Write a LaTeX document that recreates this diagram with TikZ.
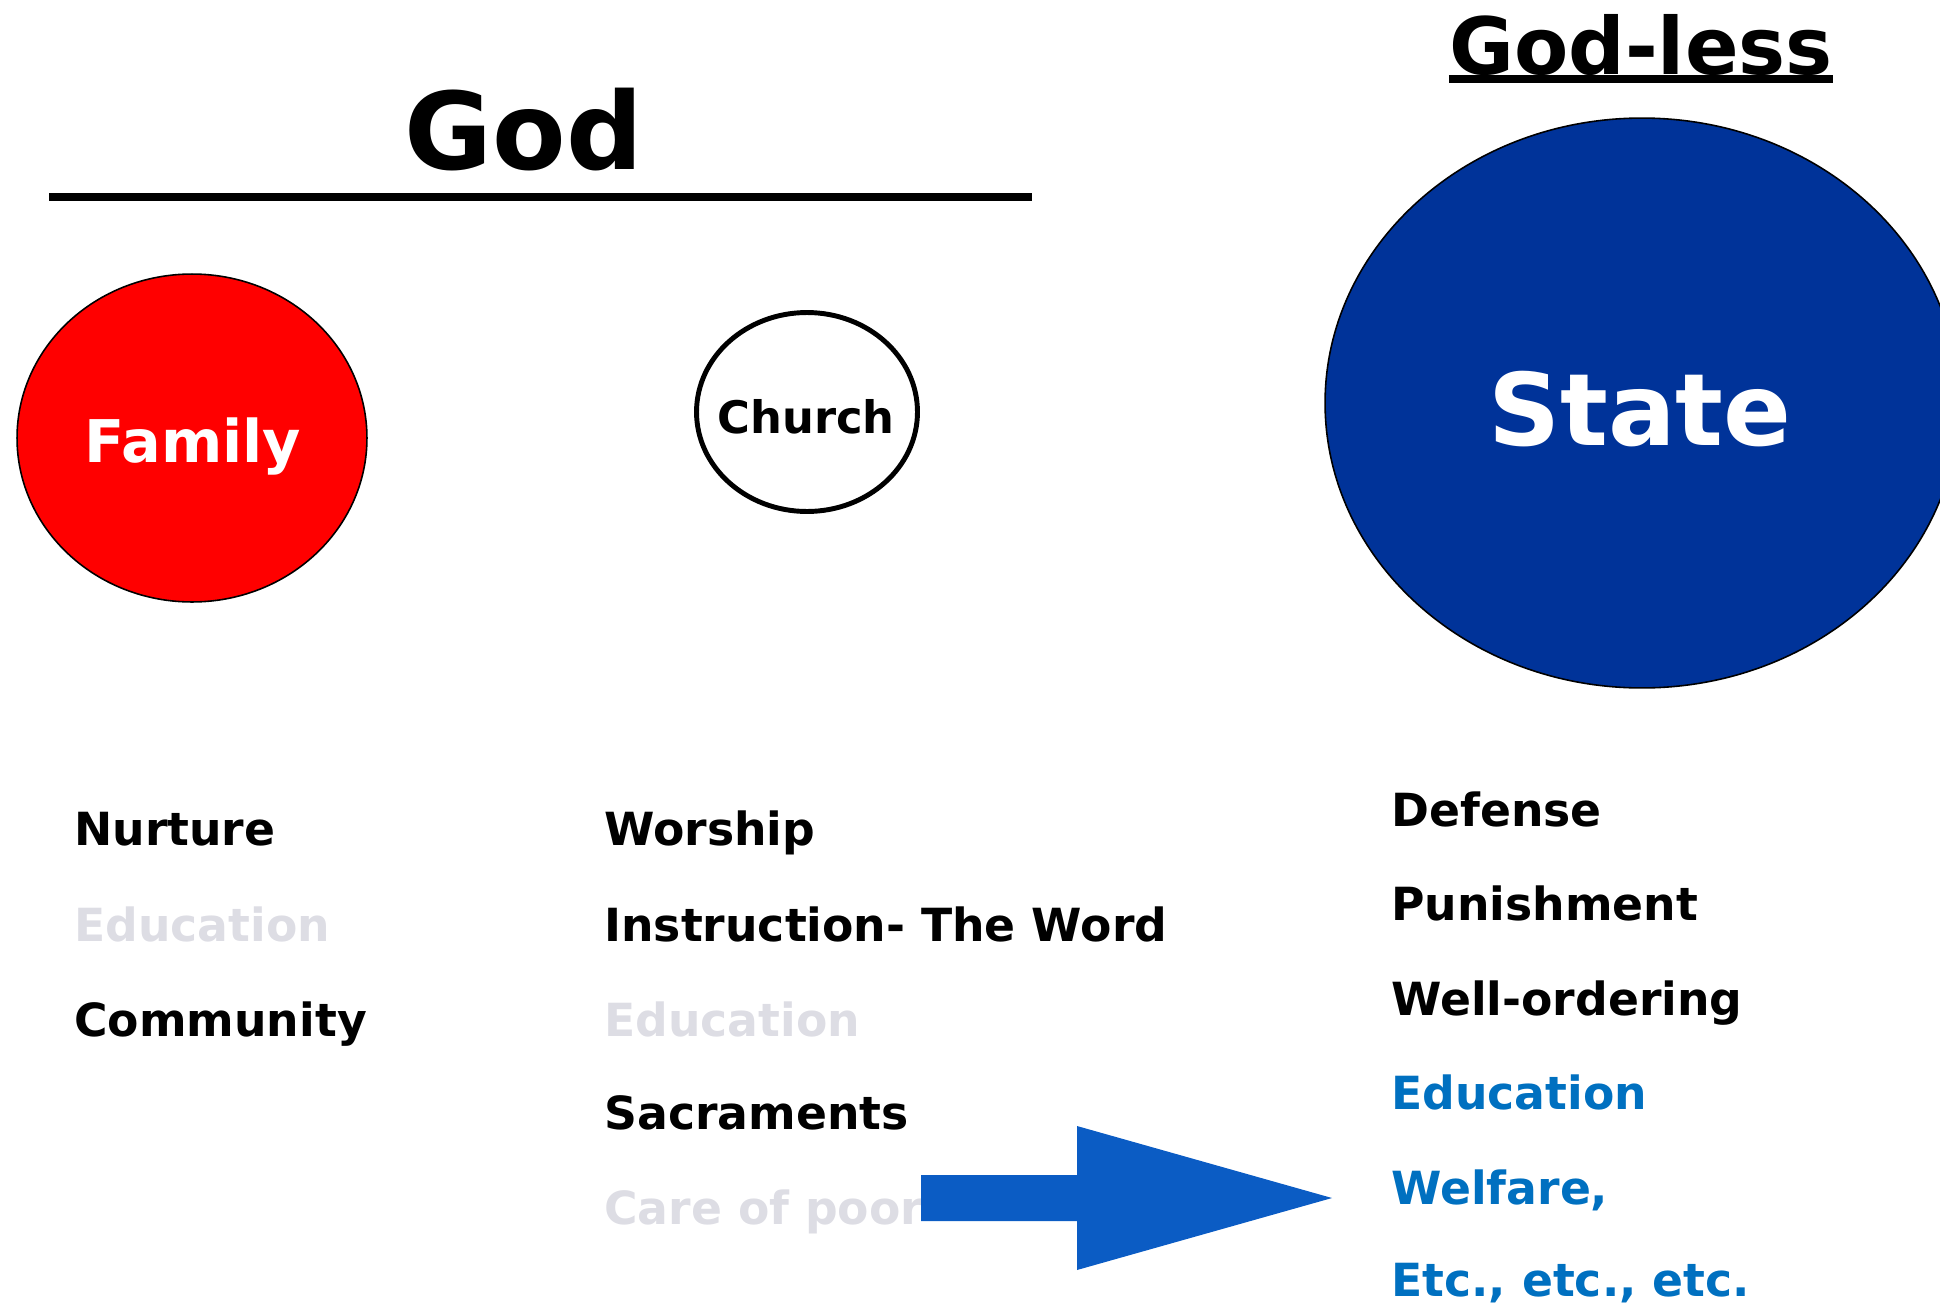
\documentclass[tikz,border=0pt]{standalone}
\usepackage{fontspec}
\setmainfont{DejaVu Sans}
\usetikzlibrary{shapes.geometric,calc}

\definecolor{famred}{HTML}{FF0000}
\definecolor{stateblue}{HTML}{003399}
\definecolor{arrowblue}{HTML}{0B5CC4}
\definecolor{textblue}{HTML}{0070C0}
\definecolor{fadegrey}{HTML}{DDDDE4}

\begin{document}
\begin{tikzpicture}[x=0.02cm,y=-0.02cm,
  item/.style={anchor=base west, inner sep=0pt, font=\fontsize{26}{30}\selectfont\bfseries},
  faded/.style={item, text=fadegrey},
  newitem/.style={item, text=textblue},
  title/.style={anchor=base, inner sep=0pt, font=\fontsize{#1}{#1}\selectfont\bfseries},
  blob/.style={ellipse, draw, inner sep=0pt, line width=0.9pt}]
\useasboundingbox (0,0) rectangle (1940,1305);
\clip (0,0) rectangle (1940,1305);

% headings
\node[title=61] (god) at (524,169) {God};
\draw[line width=4pt] (49,197) -- (1032,197);
\node[title=45] (godless) at (1641,74) {God-less};
\draw[line width=4.2pt] ($(godless.base west)+(0,5)$) -- ($(godless.base east)+(0,5)$);

% the three spheres
\node[blob, fill=famred, minimum width=7cm, minimum height=6.56cm] (family) at (192,438) {};
\node[title=33.5, text=white] (familylbl) at (193,462) {Family};
\node[blob, line width=2.8pt, minimum width=4.42cm, minimum height=3.98cm] (church) at (807,412) {};
\node[title=25.5] (churchlbl) at (806,433) {Church};
\node[blob, fill=stateblue, minimum width=12.68cm, minimum height=11.4cm] (state) at (1642,403) {};
\node[title=57, text=white] (statelbl) at (1640,445) {State};

% family duties
\node[item] (nurture) at (74,845) {Nurture};
\node[faded] (famedu) at (74,941) {Education};
\node[item] (community) at (74,1036) {Community};

% church duties
\node[item] (worship) at (604,845) {Worship};
\node[item] (instruction) at (604,941) {Instruction- The Word};
\node[faded] (churchedu) at (604,1036) {Education};
\node[item] (sacraments) at (604,1129) {Sacraments};
\node[faded] (care) at (604,1224) {Care of poor};

% state duties
\node[item] (defense) at (1391,826) {Defense};
\node[item] (punishment) at (1391,920) {Punishment};
\node[item] (ordering) at (1391,1015) {Well-ordering};
\node[newitem] (stateedu) at (1391,1109) {Education};
\node[newitem] (welfare) at (1391,1204) {Welfare,};
\node[newitem] (etc) at (1391,1296) {Etc., etc., etc.};

% block arrow
\coordinate (tail) at (921,1198);
\coordinate (tip) at (1332,1198);
\fill[arrowblue] ($(tail)+(0,-23)$) -- (1077,1175) -- (1077,1126) -- (tip)
  -- (1077,1270) -- (1077,1221) -- ($(tail)+(0,23)$) -- cycle;
\end{tikzpicture}
\end{document}
